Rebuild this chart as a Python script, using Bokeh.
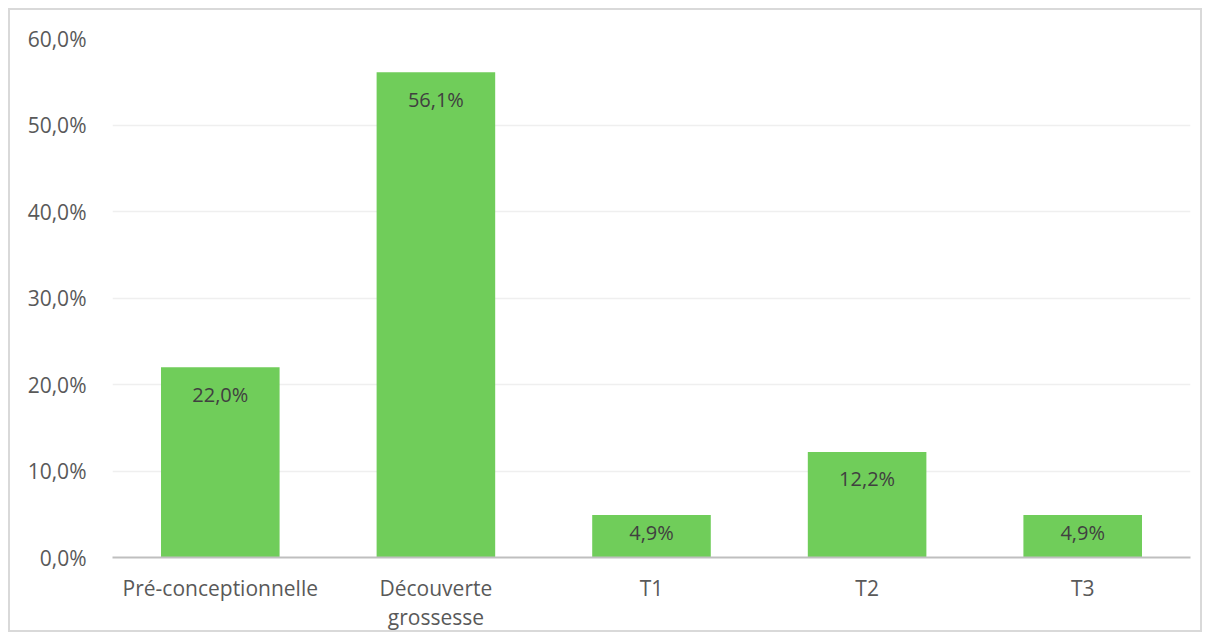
from bokeh.plotting import figure
from bokeh.models import ColumnDataSource, FixedTicker, CustomJSTickFormatter, Range1d
from bokeh.core.properties import value
from bokeh.embed import file_html
from bokeh.resources import INLINE

categories = ["Pré-conceptionnelle", "Découverte\ngrossesse", "T1", "T2", "T3"]
values = [22.0, 56.1, 4.9, 12.2, 4.9]
labels = ["22,0%", "56,1%", "4,9%", "12,2%", "4,9%"]
y_ticks = [0, 10, 20, 30, 40, 50, 60]

# label offset inside bar: smaller for short bars (label is centred in them)
label_offsets = [27 if v > 8 else 17 for v in values]

src = ColumnDataSource(dict(cat=categories, val=values, lab=labels, off=label_offsets))

p = figure(x_range=categories, y_range=Range1d(0, 60), width=1194, height=624,
           output_backend="svg", toolbar_location=None,
           min_border_left=102, min_border_right=14, min_border_top=28, min_border_bottom=76,
           styles={"margin": "8px", "border": "2px solid #D9D9D9"})
p.outline_line_color = None

p.vbar(x="cat", top="val", width=0.55, source=src, fill_color="#70CD5A", line_color=None)
p.text(x="cat", y="val", text="lab", source=src, text_align="center", text_baseline="middle",
       y_offset="off", text_font=value("Open Sans"), text_font_size="20px", text_color="#404040")

p.yaxis.ticker = FixedTicker(ticks=y_ticks)
p.yaxis.formatter = CustomJSTickFormatter(code="return tick.toFixed(1).replace('.', ',') + '%';")
p.yaxis.axis_line_color = None
p.yaxis.major_tick_line_color = None
p.yaxis.minor_tick_line_color = None
p.yaxis.major_label_standoff = 20
p.xaxis.axis_line_color = "#BFBFBF"
p.xaxis.axis_line_width = 2
p.xaxis.major_tick_line_color = None
p.xaxis.major_label_standoff = 10
p.xaxis.major_label_text_line_height = 1.07
for ax in (p.xaxis, p.yaxis):
    ax.major_label_text_font = "Open Sans"
    ax.major_label_text_font_size = "21px"
    ax.major_label_text_color = "#595959"
p.xgrid.grid_line_color = None
p.ygrid.grid_line_color = "#EFEFEF"
p.ygrid.grid_line_width = 1.5
p.x_range.range_padding = 0

open("out.html", "w").write(file_html(p, INLINE))
